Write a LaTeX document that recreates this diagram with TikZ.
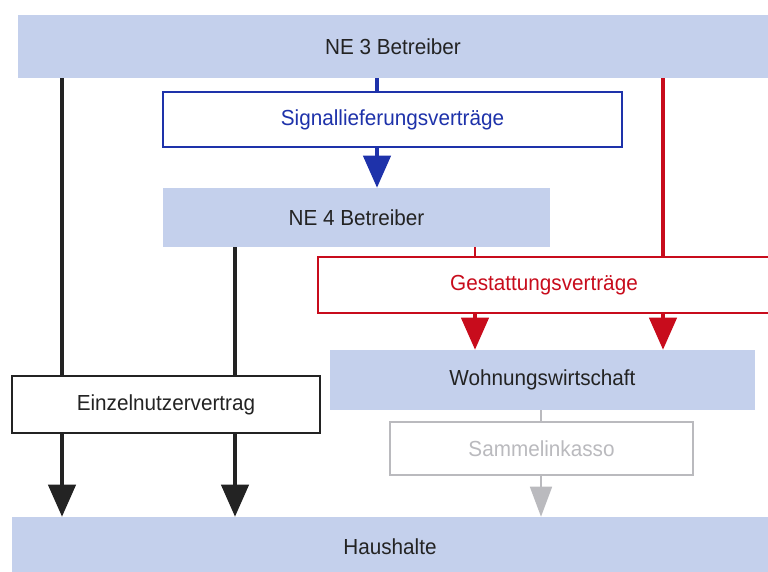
\documentclass[tikz,border=0pt]{standalone}
\usepackage{fontspec}
\setmainfont{Liberation Sans}[FakeStretch=0.95]
\usetikzlibrary{arrows.meta}
\usepackage{xcolor}
\definecolor{boxblue}{RGB}{196,208,236}
\definecolor{blue}{RGB}{30,50,170}
\definecolor{red}{RGB}{200,12,28}
\definecolor{grey}{RGB}{186,186,190}
\definecolor{txt}{RGB}{35,35,35}

\begin{document}
\begin{tikzpicture}[
	font=\fontsize{15.5}{17}\selectfont,
	e/.style = {rectangle, fill=boxblue, text=txt, inner sep=0pt},
	v/.style = {rectangle, fill=white, line width=1.4pt, inner sep=0pt},
	l/.style = {line width=2.6pt},
	r/.style = {line width=2.6pt, -{Triangle[length=0.8cm, width=0.68cm]}}
	]
	
	\useasboundingbox (0, 0) rectangle (19.2, -14.275);
	\clip (0, 0) rectangle (19.2, -14.275);
	
	%Nodes
	\node[e, minimum width=18.75cm, minimum height=1.575cm]	(ne3)	at	(9.825, -1.1625)	{NE 3 Betreiber};
	\node[v, draw=blue, text=blue, minimum width=11.475cm, minimum height=1.375cm]	(sig)	at	(9.8125, -2.9875)	{Signallieferungsverträge};
	\node[e, minimum width=9.675cm, minimum height=1.475cm]	(ne4)	at	(8.9125, -5.4375)	{NE 4 Betreiber};
	\node[v, draw=red, text=red, minimum width=11.3cm, minimum height=1.4cm]	(ges)	at	(13.6, -7.125)	{Gestattungsverträge};
	\node[e, minimum width=10.625cm, minimum height=1.5cm]	(wohn)	at	(13.5625, -9.5)	{Wohnungswirtschaft};
	\node[v, draw=txt, text=txt, minimum width=7.7cm, minimum height=1.425cm]	(ein)	at	(4.15, -10.1125)	{Einzelnutzervertrag};
	\node[v, draw=grey, text=grey, minimum width=7.575cm, minimum height=1.325cm]	(sam)	at	(13.5375, -11.2125)	{Sammelinkasso};
	\node[e, minimum width=18.9cm, minimum height=1.5cm]	(hh)	at	(9.75, -13.675)	{Haushalte};
	
	\coordinate	(xa)	at	(1.55, 0);
	\coordinate	(xb)	at	(5.875, 0);
	\coordinate	(xc)	at	(9.425, 0);
	\coordinate	(xd)	at	(11.875, 0);
	\coordinate	(xe)	at	(16.575, 0);
	\coordinate	(xf)	at	(13.525, 0);
	
	%Lines
	\draw[l, txt]	(xa |- ne3.south)	--	(xa |- ein.north);
	\draw[r, txt]	(xa |- ein.south)	--	(xa |- hh.north);
	\draw[l, txt]	(xb |- ne4.south)	--	(xb |- ein.north);
	\draw[r, txt]	(xb |- ein.south)	--	(xb |- hh.north);
	
	\draw[l, blue]	(xc |- ne3.south)	--	(xc |- sig.north);
	\draw[r, blue]	(xc |- sig.south)	--	(xc |- ne4.north);
	
	\draw[l, red]	(xe |- ne3.south)	--	(xe |- ges.north);
	\draw[red, line width=1.4pt]	(xd |- ne4.south)	--	(xd |- ges.north);
	\draw[r, red]	(xd |- ges.south)	--	(xd |- wohn.north);
	\draw[r, red]	(xe |- ges.south)	--	(xe |- wohn.north);
	
	\draw[grey, line width=1.2pt]	(xf |- wohn.south)	--	(xf |- sam.north);
	\draw[grey, line width=1.2pt, -{Triangle[length=0.75cm, width=0.55cm]}]	(xf |- sam.south)	--	(xf |- hh.north);
	
\end{tikzpicture}
\end{document}
